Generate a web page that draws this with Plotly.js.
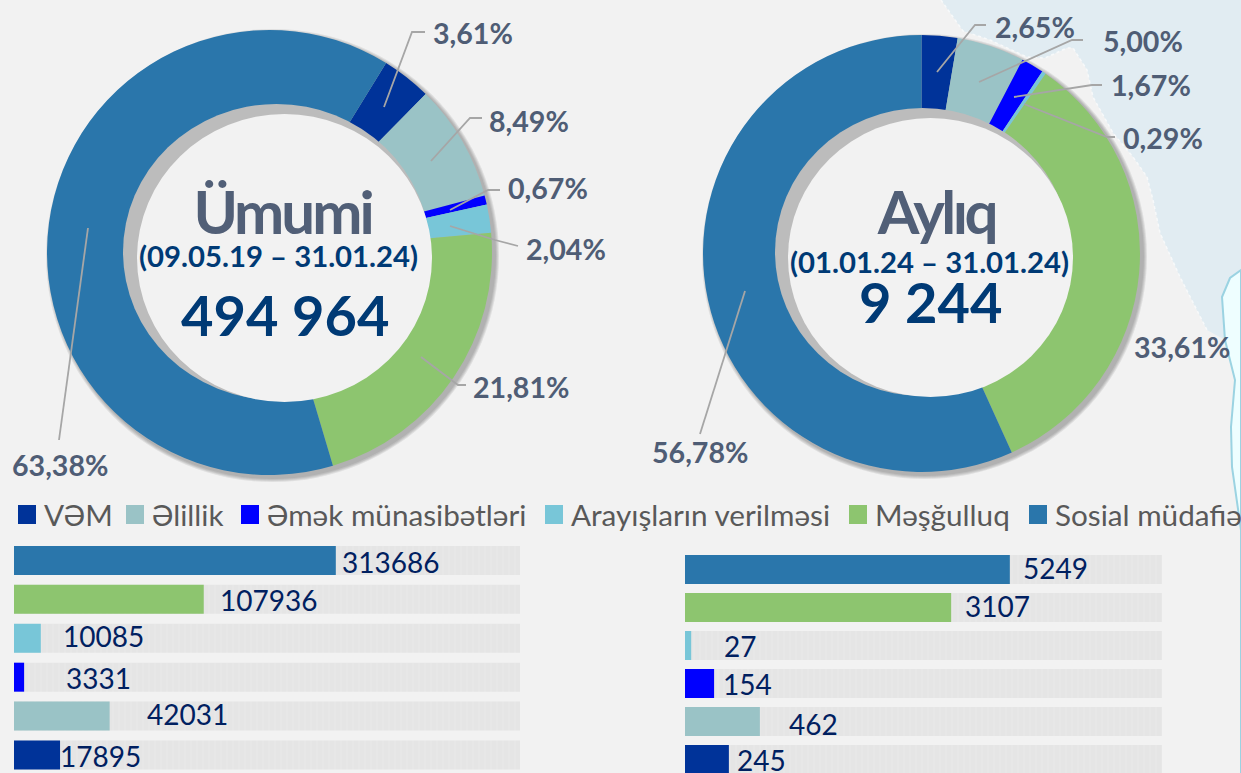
<!DOCTYPE html>
<html>
<head>
<meta charset="utf-8">
<script src="https://cdn.plot.ly/plotly-3.0.1.min.js"></script>
<style>
html,body{margin:0;padding:0;background:#f2f2f2;overflow:hidden}
#chart{width:1241px;height:773px}
g.annotation[data-index="0"] text{letter-spacing:-3px}
g.annotation[data-index="3"] text{letter-spacing:-3.5px}
</style>
</head>
<body>
<div id="chart"></div>
<script>
// ---------- data ----------
const categories = ['VƏM','Əlillik','Əmək münasibətləri','Arayışların verilməsi','Məşğulluq','Sosial müdafiə'];
const colors = ['#003399','#9ac3c6','#0000ff','#78c6d8','#8dc56f','#2a76ab'];
const totalShares = [3.61,8.49,0.67,2.04,21.81,63.38];
const monthShares = [2.65,5.00,1.67,0.29,33.61,56.78];
const totalCounts = [17895,42031,3331,10085,107936,313686];
const monthCounts = [245,462,154,27,3107,5249];
// bar lengths as drawn in the picture, in percent of the grey track
const totalBarLengths = [9.1,18.9,2.0,5.3,37.5,63.6];
const monthBarLengths = [9.2,15.7,6.1,1.3,55.8,68.1];
const totalTitle = ['Ümumi','(09.05.19 – 31.01.24)','494 964'];
const monthTitle = ['Aylıq','(01.01.24 – 31.01.24)','9 244'];

// ---------- layout helpers (pixel → paper) ----------
const W = 1241, H = 773;
const px = x => x / W;
const py = y => 1 - y / H;
const FONT = 'Lato, Carlito, "Noto Sans", sans-serif';
const pct = v => v.toFixed(2).replace('.', ',') + '%';
const barOrder = categories.slice().reverse();

const shapes = [], annotations = [];
const path = pts => pts.map((p, i) => (i ? 'L' : 'M') + px(p[0]) + ',' + py(p[1])).join(' ');
const ellipse = (x0, x1, y0, y1, fill, layer) => shapes.push({
  type: 'circle', xref: 'paper', yref: 'paper', layer: layer || 'above',
  x0: px(x0), x1: px(x1), y0: py(y0), y1: py(y1), fillcolor: fill, line: {width: 0}
});
const text = (x, y, t, size, color, bold, anchor) => annotations.push({
  xref: 'paper', yref: 'paper', x: px(x), y: py(y), text: t, showarrow: false,
  xanchor: anchor || 'left', yanchor: 'middle',
  font: {family: FONT, size: size, color: color, weight: bold ? 700 : 400},
  borderpad: 0, borderwidth: 0
});

// centre titles (these come first: CSS tightens index 0 and 3)
const TITLE = '#515f77', NAVY = '#003a75';
text(282, 211, totalTitle[0], 60, TITLE, true, 'center');
text(278.5, 256, totalTitle[1], 29.3, NAVY, true, 'center');
text(285, 314, totalTitle[2], 56, NAVY, true, 'center');
text(936, 211, monthTitle[0], 60, TITLE, true, 'center');
text(929.5, 261, monthTitle[1], 29.3, NAVY, true, 'center');
text(931, 301, monthTitle[2], 56, NAVY, true, 'center');

// background map
const land = [[941,0],[953,17],[963,31],[990,40],[1027,57],[1045,58],[1067,48],[1073,48],[1087,70],[1093,97],[1113,133],[1133,157],[1147,177],[1153,200],[1160,233],[1180,277],[1207,330],[1225,340],[1241,300],[1241,0]];
const coast = land.slice(0, 17);
const sea = [[1241,270],[1230,278],[1222,297],[1225,340],[1235,380],[1231,427],[1232,467],[1241,530],[1241,773],[1241,270]];
shapes.push({type:'path',xref:'paper',yref:'paper',layer:'below',path:path(land)+' Z',fillcolor:'#e1ecf2',line:{width:0}});
shapes.push({type:'path',xref:'paper',yref:'paper',layer:'below',path:path(coast),line:{color:'#f7f9fa',width:1.5,dash:'dot'}});
shapes.push({type:'path',xref:'paper',yref:'paper',layer:'below',path:path(sea)+' Z',fillcolor:'#eefeff',line:{color:'#9bd3e2',width:2}});

// soft shadows under the rings
[[47,492,30,475],[703,1140,35,472]].forEach(b => {
  [4,3,2,1].forEach(g => ellipse(b[0]+3-g, b[1]+3+g, b[2]+3-g, b[3]+3+g, 'rgba(60,60,60,0.10)', 'below'));
});

// hole: grey crescent + pale disc
ellipse(123,430,104,400,'#bcbcbc');
ellipse(137,432,114,402,'#f2f2f2');
ellipse(775,1070,108,396,'#bcbcbc');
ellipse(788,1073,118,397,'#f2f2f2');

// leader lines
const leaders = [
  [[384,107],[412,32],[425,32]],
  [[431,161],[470,118],[482,118]],
  [[450,210],[488,190],[500,190]],
  [[450,226],[495,240],[518,246]],
  [[421,357],[458,385],[466,385]],
  [[88,228],[59,440]],
  [[937,72],[975,25],[986,25]],
  [[979,82],[1072,40],[1083,40]],
  [[1014,97],[1092,85],[1102,85]],
  [[1024,104],[1107,137],[1115,137]],
  [[745,291],[700,434]]
];
leaders.forEach(l => shapes.push({type:'path',xref:'paper',yref:'paper',layer:'above',path:path(l),line:{color:'#a6a6a6',width:1.8}}));

// percentage labels
const LBL = '#4f5d75';
const totalLblPos = [[433,33],[489,121],[508,188],[526,249],[473,387],[12,465]];
const monthLblPos = [[995,27],[1103,41],[1111,85],[1123,138],[1134,347],[652,452]];
totalShares.forEach((v,i) => text(totalLblPos[i][0], totalLblPos[i][1], pct(v), 28.6, LBL, true));
monthShares.forEach((v,i) => text(monthLblPos[i][0], monthLblPos[i][1], pct(v), 28.6, LBL, true));

// legend row
const legendX = [18,126,241,545,849,1029];
categories.forEach((c,i) => {
  shapes.push({type:'rect',xref:'paper',yref:'paper',layer:'above',x0:px(legendX[i]),x1:px(legendX[i]+18),y0:py(505),y1:py(524),fillcolor:colors[i],line:{width:0}});
  text(legendX[i]+26, 514, c, 29.7, '#595959', false);
});

// value labels
const INK = '#002060';
const totalValPos = [[60,756],[147,714],[66,678],[63,636],[220,600],[342,562]];
const monthValPos = [[737,760],[789,724],[723,684],[724,646],[965,606],[1023,568]];
totalCounts.forEach((v,i) => text(totalValPos[i][0], totalValPos[i][1], String(v), 28, INK, false));
monthCounts.forEach((v,i) => text(monthValPos[i][0], monthValPos[i][1], String(v), 28, INK, false));

// ---------- traces ----------
const donut = (vals, rot, x0, x1, y0, y1, name) => ({
  type: 'pie', name, labels: categories, values: vals, sort: false, direction: 'clockwise',
  rotation: rot, hole: 0.6, textinfo: 'none', showlegend: false,
  marker: {colors, line: {width: 0}},
  domain: {x: [px(x0), px(x1)], y: [py(y1), py(y0)]}
});
const track = (ax, ay, w) => ({
  type: 'bar', orientation: 'h', xaxis: ax, yaxis: ay, y: barOrder, x: barOrder.map(() => 100),
  width: w, showlegend: false, hoverinfo: 'skip',
  marker: {color: '#e5e5e5', line: {width: 0}, pattern: {shape: '|', size: 6, solidity: 0.25, fgcolor: '#e8e8e8', bgcolor: '#e5e5e5'}}
});
const bars = (ax, ay, lens, counts, w) => ({
  type: 'bar', orientation: 'h', xaxis: ax, yaxis: ay, y: categories, x: lens, customdata: counts,
  width: w, showlegend: false, hovertemplate: '%{y}: %{customdata}<extra></extra>',
  marker: {color: colors, line: {width: 0}}
});

const data = [
  donut(totalShares, 31.6, 47, 492, 30, 475, 'Ümumi'),
  donut(monthShares, 0, 703, 1140, 35, 472, 'Aylıq'),
  track('x', 'y', 0.745),
  bars('x', 'y', totalBarLengths, totalCounts, 0.745),
  track('x2', 'y2', 0.763),
  bars('x2', 'y2', monthBarLengths, monthCounts, 0.763)
];

const hiddenX = d => ({domain: d, range: [0, 100], visible: false, fixedrange: true});
const hiddenY = (d, r) => ({domain: d, range: r, type: 'category', categoryorder: 'array', categoryarray: barOrder, visible: false, fixedrange: true});

const layout = {
  width: W, height: H,
  margin: {l: 0, r: 0, t: 0, b: 0, pad: 0},
  paper_bgcolor: '#f2f2f2', plot_bgcolor: 'rgba(0,0,0,0)',
  showlegend: false, barmode: 'overlay',
  xaxis: hiddenX([px(14), px(520)]),
  yaxis: hiddenY([0, py(541)], [(773 - 560.5) / 38.9, -0.5]),
  xaxis2: hiddenX([px(685), px(1162)]),
  yaxis2: hiddenY([0, py(550.5)], [(773 - 569.5) / 38, -0.5]),
  shapes, annotations
};
Plotly.newPlot('chart', data, layout, {displayModeBar: false, responsive: false});
</script>
</body>
</html>
